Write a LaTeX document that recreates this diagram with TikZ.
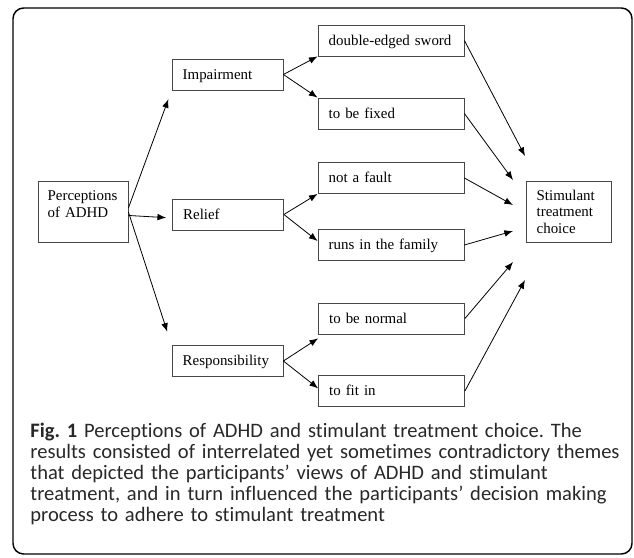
\documentclass[tikz,border=0pt]{standalone}
\usepackage{fontspec}
\setmainfont{Liberation Serif}
\newfontfamily\capfont[Ligatures=NoCommon]{Carlito}
\usetikzlibrary{arrows.meta}
\definecolor{box_gray}{RGB}{70,70,70}
\definecolor{cap_gray}{RGB}{40,40,40}
\frenchspacing

\begin{document}
\begin{tikzpicture}[->,>={Latex[length=6.5pt,width=5pt]},line width=0.6pt,x=0.75pt,y=-0.75pt]
    \tikzstyle{box}=[draw=box_gray, inner xsep=8pt, inner ysep=0pt, align=left, text height=15pt, text depth=8.25pt, font=\fontsize{11.2}{12.4}\selectfont]
    \tikzstyle{mid}=[box, text width=67.25pt]
    \tikzstyle{leaf}=[box, text width=93.5pt]
    \tikzstyle{tall}=[box, text height=14.25pt, text depth=31.5pt]

    \useasboundingbox (0,0) rectangle (634,557);
    \draw[-, line width=1.1pt, rounded corners=8pt] (13,8) rectangle (632,554);

    \node[tall, text width=53pt, inner xsep=7.25pt] (p) at (83,212) {Perceptions\\of ADHD};
    \node[tall, text width=47.75pt] (s) at (568.5,211.5) {Stimulant\\treatment\\choice};

    \node[mid] (i) at (227.5,74.5) {Impairment};
    \node[mid] (r) at (228,214.5)  {Relief};
    \node[mid] (q) at (227.5,361)  {Responsibility};

    \node[leaf] (d) at (391,40.5)   {double-edged sword};
    \node[leaf] (f) at (391,113.5)  {to be fixed};
    \node[leaf] (n) at (391,178)    {not a fault};
    \node[leaf] (h) at (391,245)    {runs in the family};
    \node[leaf] (m) at (391.5,318.5) {to be normal};
    \node[leaf] (t) at (391.5,391)  {to fit in};

    \coordinate (s1) at (525,156);
    \coordinate (s2) at (513,180);
    \coordinate (s3) at (513,205);
    \coordinate (s4) at (513,231);
    \coordinate (s5) at (513,262);
    \coordinate (s6) at (525,280);

    \path
     ([yshift=3pt]p.east) edge[shorten >=7pt] (i.south west)
     ([yshift=-2.6pt]p.east) edge[shorten >=4.5pt] ([yshift=-2.6pt]r.west)
     (p.east) edge[shorten >=10.5pt] (q.north west)
     (i.east) edge (d.south west)
     (i.east) edge (f.north west)
     (r.east) edge (n.south west)
     (r.east) edge ([yshift=3pt]h.west)
     (q.east) edge ([yshift=-3pt]m.south west)
     (q.east) edge ([yshift=2pt]t.west)
     (d.east) edge (s1)
     (f.east) edge (s2)
     (n.east) edge (s3)
     (h.east) edge (s4)
     (m.east) edge (s5)
     (t.east) edge (s6)
     ;

    \node[anchor=base west, align=left, text width=445pt, inner sep=0pt, text=cap_gray,
          font=\capfont\fontsize{15.4}{15.75}\selectfont] (cap) at (30,437)
     {\textbf{Fig. 1} Perceptions of ADHD and stimulant treatment choice. The\\
      results consisted of interrelated yet sometimes contradictory themes\\
      that depicted the participants’ views of ADHD and stimulant\\
      treatment, and in turn influenced the participants’ decision making\\
      process to adhere to stimulant treatment};
  \end{tikzpicture}
\end{document}
